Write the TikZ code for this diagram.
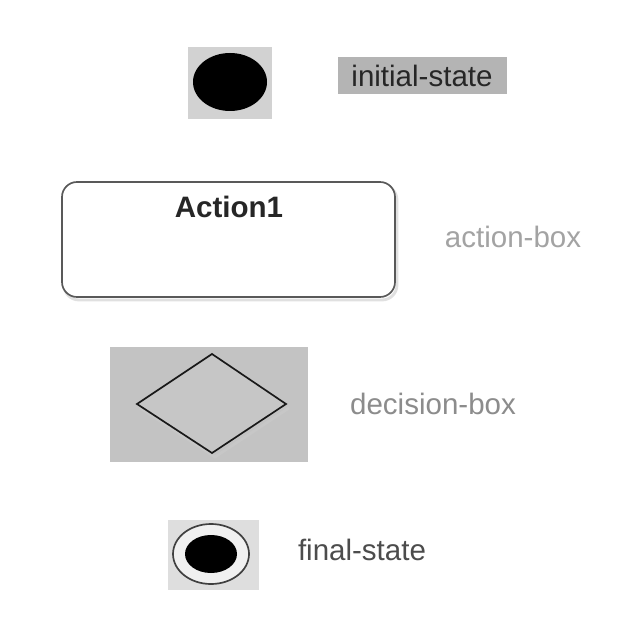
\documentclass[tikz,border=0pt]{standalone}
\usepackage{fontspec}
\setmainfont{Liberation Sans}
\usetikzlibrary{shapes.geometric}
\definecolor{bgA}{HTML}{D2D2D2}
\definecolor{bgB}{HTML}{B4B4B4}
\definecolor{bgC}{HTML}{C3C3C3}
\definecolor{bgD}{HTML}{DEDEDE}
\tikzset{
  lbl/.style={font=\fontsize{21}{25}\selectfont, inner sep=0pt},
}
\begin{document}
\begin{tikzpicture}[x=0.25mm,y=-0.25mm]
\useasboundingbox[fill=white] (0,0) rectangle (640,640);
% initial state
\fill[bgA] (188,47) rectangle (272,119);
\node[ellipse, fill=black, minimum width=18.5mm, minimum height=14.5mm, inner sep=0pt] (init) at (230,82) {};
\fill[bgB] (338,57) rectangle (507,94);
\node[lbl, text=black!85] (initlbl) at (422,76) {initial-state};
% action box
\draw[black!12, line width=2pt, rounded corners=3.75mm] (64,185) rectangle (397,300);
\draw[black!65, line width=1.2pt, rounded corners=3.75mm, fill=white] (62,182) rectangle (395,297);
\node[lbl, font=\fontsize{21}{25}\selectfont\bfseries, text=black!85] (act) at (229,207) {Action1};
\node[lbl, text=black!36] (actlbl) at (513,237) {action-box};
% decision box
\fill[bgC] (110,347) rectangle (308,462);
\coordinate (dl) at (137,404);
\coordinate (dr) at (286,404);
\coordinate (dt) at (212,354);
\coordinate (db) at (212,453);
\draw[black!22, line width=2pt] ([shift={(3,4)}]dr) -- ([shift={(3,4)}]db) -- ([shift={(3,4)}]dl);
\draw[black!90, line width=1.2pt, fill=bgC!95!white] (dl) -- (dt) -- (dr) -- (db) -- cycle;
\node[lbl, text=black!45] (declbl) at (433,404) {decision-box};
% final state
\fill[bgD] (168,520) rectangle (259,590);
\node[ellipse, draw=black!75, line width=1.2pt, fill=white!94!black, minimum width=19mm, minimum height=15mm, inner sep=0pt] (fin) at (211,554) {};
\node[ellipse, fill=black, minimum width=13mm, minimum height=9.5mm, inner sep=0pt] (fincore) at (211,554) {};
\node[lbl, text=black!70] (finlbl) at (362,550) {final-state};
\end{tikzpicture}
\end{document}
